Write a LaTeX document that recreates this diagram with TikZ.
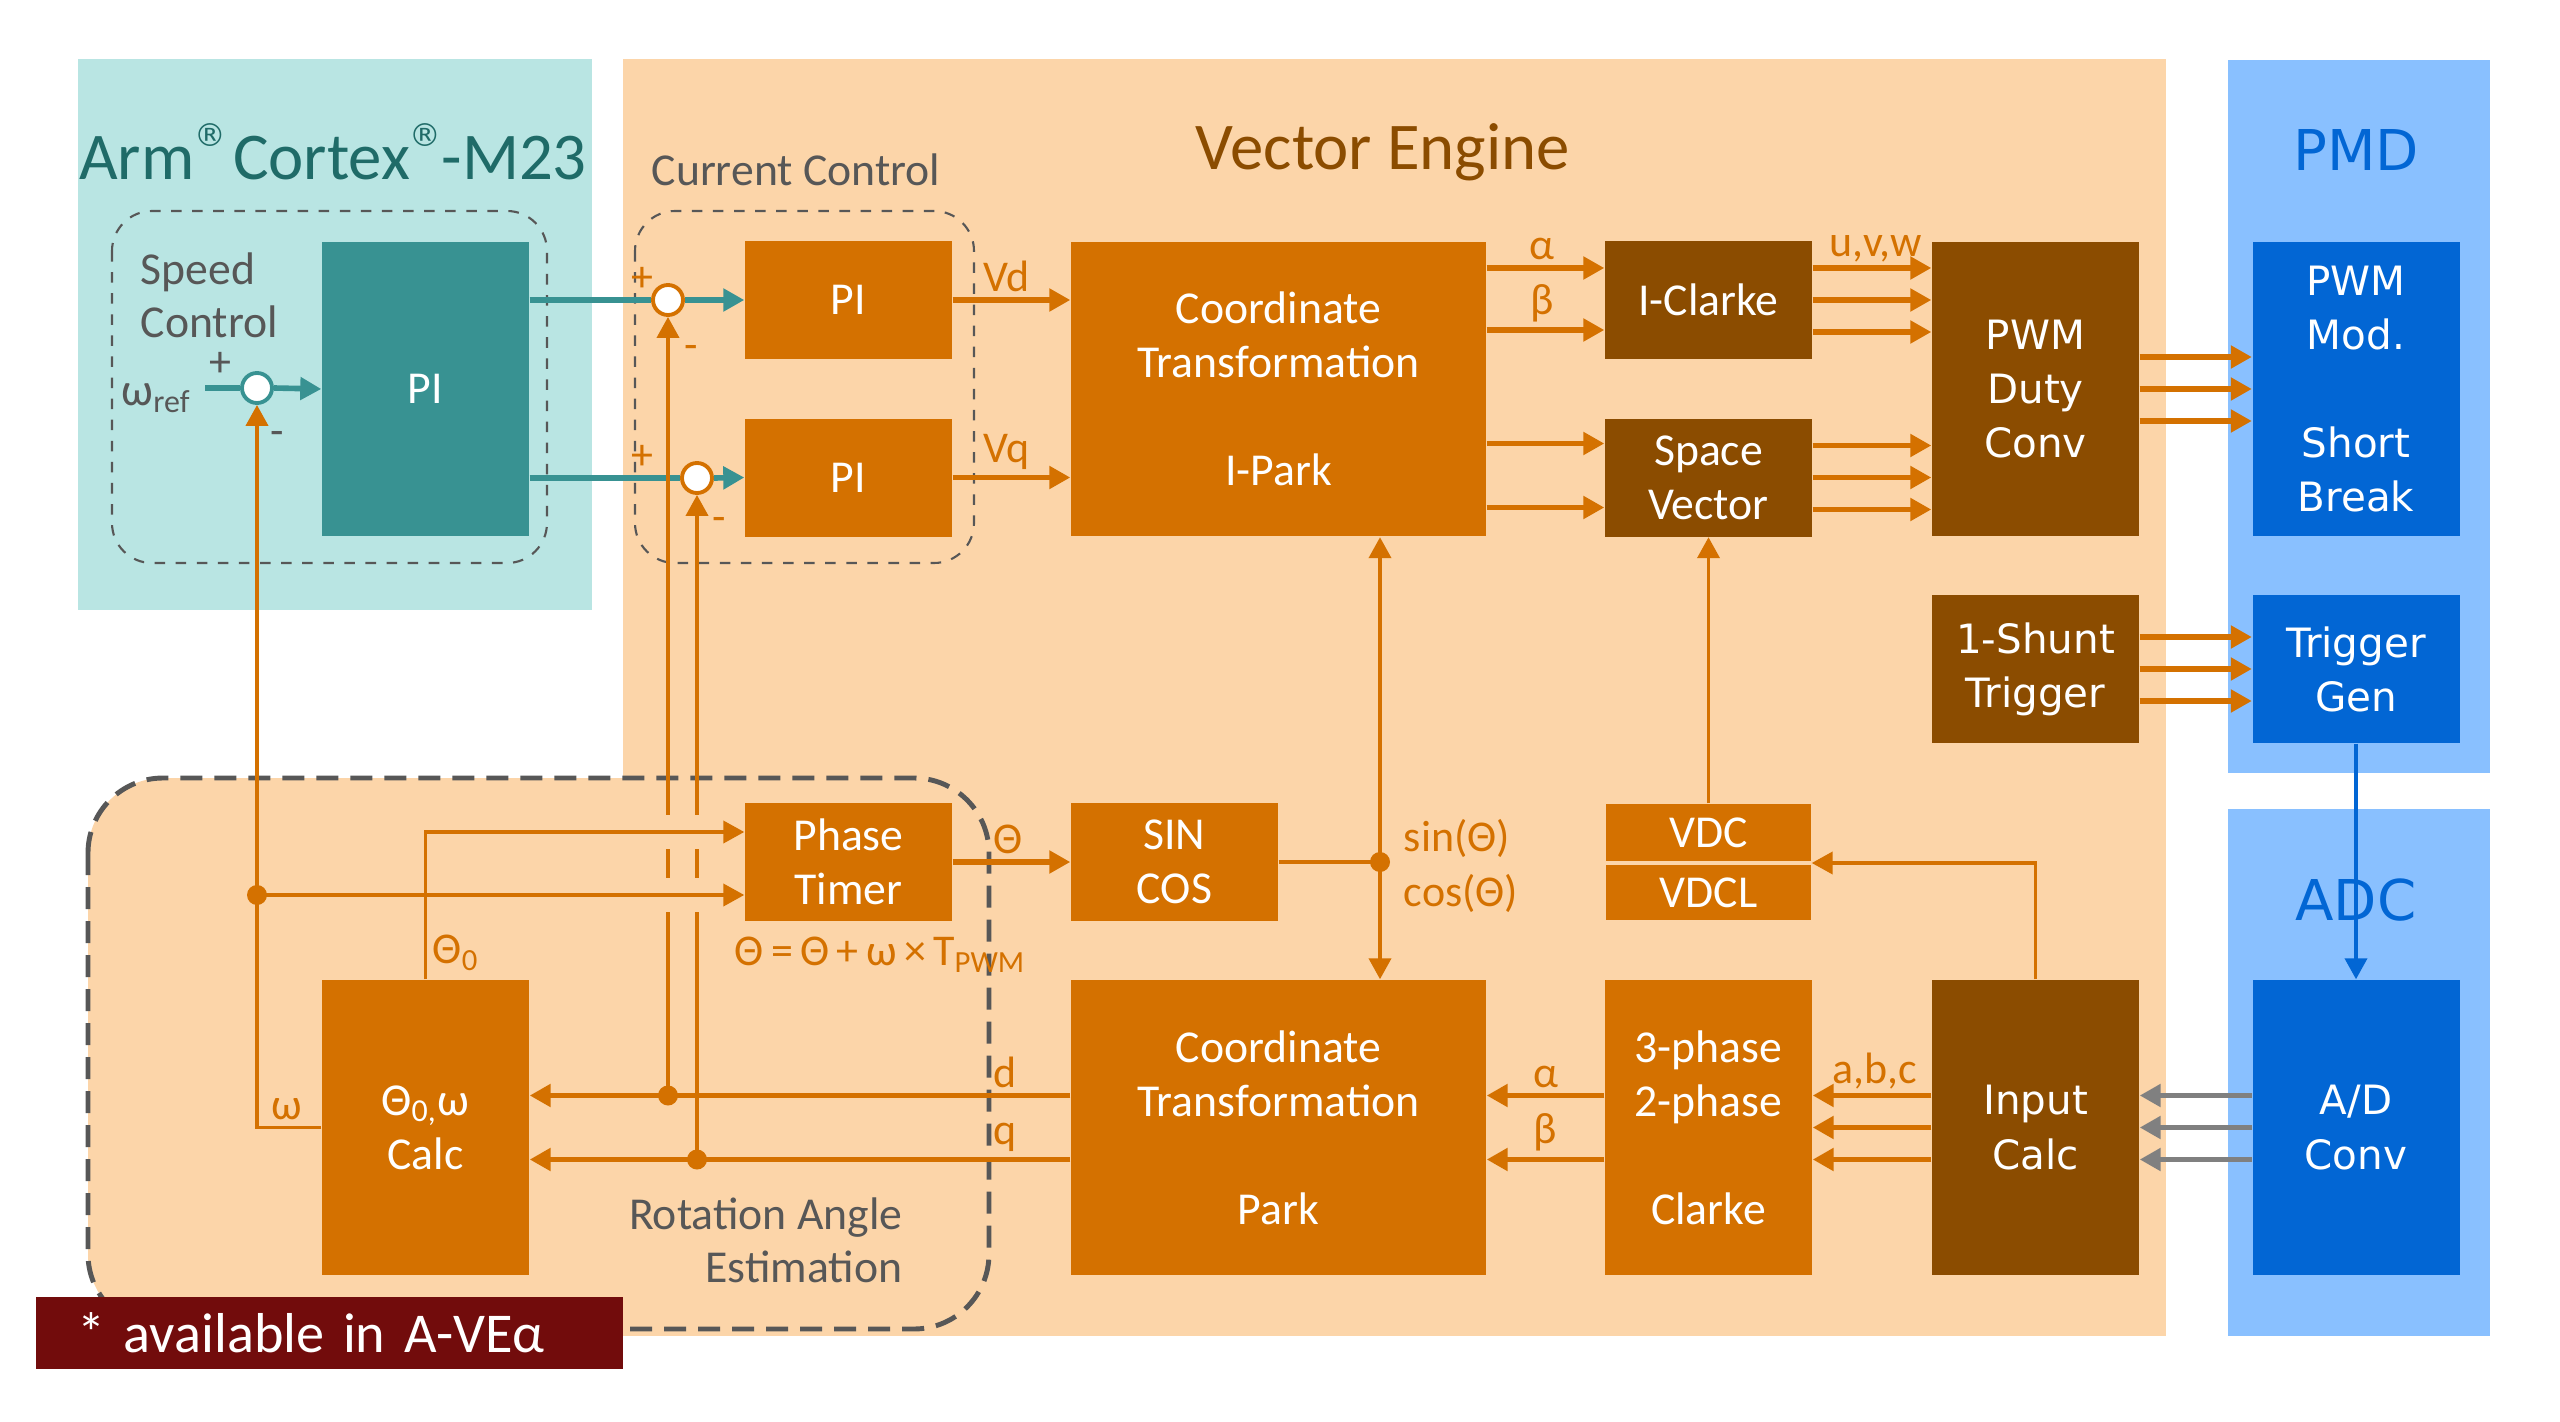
\documentclass[tikz,border=0pt]{standalone}
\usepackage{fontspec}
\setmainfont{Carlito}
\newfontfamily\pmdfont{DejaVu Sans}
\usetikzlibrary{arrows.meta,positioning,calc}

\definecolor{armbg}{HTML}{B9E5E3}
\definecolor{armteal}{HTML}{389292}
\definecolor{armtitle}{HTML}{1F6B68}
\definecolor{vebg}{HTML}{FCD5A9}
\definecolor{veorange}{HTML}{D47100}
\definecolor{vebrown}{HTML}{8B4C00}
\definecolor{pmdbg}{HTML}{89C0FF}
\definecolor{pmdblue}{HTML}{0266D4}
\definecolor{notered}{HTML}{720C0C}
\definecolor{dashgray}{HTML}{575757}

\newcommand{\regmark}{\raisebox{1.05ex}{\pmdfont\fontsize{9}{9}\selectfont ®}}

\begin{document}
\begin{tikzpicture}[
    x=0.1mm, y=-0.1mm,
    block/.style={
        rectangle,
        fill=veorange,
        text=white,
        inner sep=0pt,
        align=center,
        font=\fontsize{13}{15.4}\selectfont
    },
    darkblock/.style={block, fill=vebrown},
    pmdtext/.style={font=\pmdfont\fontsize{11.5}{15.4}\selectfont},
    pmdblock/.style={block, pmdtext, fill=pmdblue},
    smallbox/.style={minimum width=20.7mm, minimum height=11.8mm},
    midbox/.style={minimum width=20.7mm, minimum height=14.8mm},
    tallbox/.style={minimum width=20.7mm, minimum height=29.5mm},
    widebox/.style={minimum width=41.5mm, minimum height=29.5mm},
    sumnode/.style={
        circle,
        draw=veorange,
        fill=white,
        line width=1.1pt,
        minimum size=3mm,
        inner sep=0pt
    },
    conn/.style={draw=veorange, line width=1.1pt},
    arrow/.style={conn, -{Triangle[length=2.1mm, width=2.2mm]}},
    bus/.style={arrow, line width=1.6pt},
    tealarrow/.style={bus, draw=armteal},
    joint/.style={circle, fill=veorange, minimum size=2mm, inner sep=0pt},
    bridge/.style={draw=vebg, line width=3.4mm},
    lbl/.style={font=\fontsize{12.5}{15.4}\selectfont, text=veorange, inner sep=1.5pt},
    grouptext/.style={font=\fontsize{13}{15}\selectfont, text=dashgray, inner sep=0pt},
    groupbox/.style={draw=dashgray, dashed, line width=0.6pt, rounded corners=4mm}
]

\useasboundingbox (0,0) rectangle (2560,1422);

% Backgrounds
\fill[armbg] (78,59) rectangle (592,610);
\fill[vebg] (623,59) rectangle (2166,1336);
\fill[pmdbg] (2228,60) rectangle (2490,773);
\fill[pmdbg] (2228,809) rectangle (2490,1336);
\fill[vebg, rounded corners=7.5mm] (88,778) rectangle (989,1329);

% Titles
\node[font=\fontsize{19}{22}\selectfont, text=armtitle] (armname) at (333,152)
    {Arm\regmark\hspace{2pt}Cortex\regmark-M23};
\node[font=\fontsize{19}{22}\selectfont, text=vebrown] (vename) at (1383,152) {Vector Engine};
\node[font=\pmdfont\fontsize{16}{18}\selectfont, text=pmdblue] (pmdname) at (2356,150) {PMD};
\node[font=\pmdfont\fontsize{16}{18}\selectfont, text=pmdblue] (adcname) at (2356,900) {ADC};

% Groups
\draw[groupbox] (112,211) rectangle (547,563);
\draw[groupbox] (635,211) rectangle (974,563);
\draw[groupbox, line width=1.4pt, dash pattern=on 2.2mm off 1.2mm, rounded corners=7.5mm]
    (88,778) rectangle (989,1329);
\node[grouptext, align=left, anchor=west] (speedtext) at (140,295) {Speed\\Control};
\node[grouptext] (currenttext) at (796,170) {Current Control};
\node[grouptext, align=right, anchor=east] (rottext) at (903,1240) {Rotation Angle\\Estimation};

% Blocks
\node[block, tallbox, fill=armteal] (spi) at (425.5,389) {PI};
\node[block, smallbox] (pid) at (848.5,300) {PI};
\node[block, smallbox] (piq) at (848.5,477.5) {PI};
\node[block, widebox] (ipark) at (1278.5,389) {Coordinate\\Transformation\\[15.4pt]I-Park};
\node[darkblock, smallbox] (iclarke) at (1708.5,300) {I-Clarke};
\node[darkblock, smallbox] (svec) at (1708.5,477.5) {Space\\Vector};
\node[darkblock, pmdtext, tallbox] (pwmduty) at (2035.5,389) {PWM\\Duty\\Conv};
\node[pmdblock, tallbox] (pwmmod) at (2356,389) {PWM\\Mod.\\[15.4pt]Short\\Break};
\node[darkblock, pmdtext, midbox] (shunt) at (2035.5,669) {1-Shunt\\Trigger};
\node[pmdblock, midbox] (triggen) at (2356,669) {Trigger\\Gen};
\node[block, smallbox] (phase) at (848.5,862) {Phase\\Timer};
\node[block, smallbox] (sincos) at (1174.5,862) {SIN\\COS};
\node[block, minimum width=20.5mm, minimum height=5.7mm] (vdc) at (1708.5,832.5) {VDC};
\node[block, minimum width=20.5mm, minimum height=5.5mm] (vdcl) at (1708.5,892.5) {VDCL};
\node[block, widebox] (park) at (1278.5,1127.5) {Coordinate\\Transformation\\[15.4pt]Park};
\node[block, tallbox] (clarke) at (1708.5,1127.5) {3-phase\\2-phase\\[15.4pt]Clarke};
\node[darkblock, pmdtext, tallbox] (incalc) at (2035.5,1127.5) {Input\\Calc};
\node[pmdblock, tallbox] (adconv) at (2356,1127.5) {A/D\\Conv};
\node[block, tallbox] (calc) at (425.5,1127.5) {Θ\textsubscript{0,}ω\\Calc};

% Summing points
\node[sumnode, draw=armteal] (sumw) at (257,388) {};
\node[sumnode] (sumd) at (668,300) {};
\node[sumnode] (sumq) at (697,478) {};
\node[lbl, text=dashgray] at ($(sumw)+(-37,-24)$) {+};
\node[lbl, text=dashgray] at ($(sumw)+(20,50)$) {-};
\node[lbl] at ($(sumd)+(-26,-21)$) {+};
\node[lbl] at ($(sumd)+(23,52)$) {-};
\node[lbl] at ($(sumq)+(-55,-21)$) {+};
\node[lbl] at ($(sumq)+(22,46)$) {-};

% Speed and current loop
\coordinate (wref) at (205,388);
\node[font=\fontsize{13}{15}\selectfont, text=dashgray, anchor=base east, inner sep=0pt] (wreftext)
    at (192,405) {ω\textsubscript{ref}};
\draw[tealarrow, -] (wref) -- (sumw.west);
\draw[tealarrow] (sumw.east) -- (spi.west);
\draw[tealarrow, -] ($(spi.east)+(0,-89)$) -- (sumd.west);
\draw[tealarrow] (sumd.east) -- (pid.west);
\draw[tealarrow, -] ($(spi.east)+(0,89)$) -- (sumq.west);
\draw[tealarrow] (sumq.east) -- (piq.west);
\draw[bus] (pid.east) -- node[lbl, above, pos=0.46] {Vd} (pid.east -| ipark.west);
\draw[bus] (piq.east) -- node[lbl, above, pos=0.46] {Vq} (piq.east -| ipark.west);

% Output path
\draw[bus] ($(ipark.east |- iclarke.west)+(0,-32)$) -- node[lbl, above, pos=0.47] {α} ($(iclarke.west)+(0,-32)$);
\draw[bus] ($(ipark.east |- iclarke.west)+(0,30)$) -- node[lbl, above, pos=0.47] {β} ($(iclarke.west)+(0,30)$);
\draw[bus] ($(ipark.east |- svec.west)+(0,-34)$) -- ($(svec.west)+(0,-34)$);
\draw[bus] ($(ipark.east |- svec.west)+(0,30)$) -- ($(svec.west)+(0,30)$);
\foreach \dy in {-32,0,32} {
    \draw[bus] ($(iclarke.east)+(0,\dy)$) -- ($(pwmduty.west |- iclarke.east)+(0,\dy)$);
    \draw[bus] ($(svec.east)+(0,\dy)$) -- ($(pwmduty.west |- svec.east)+(0,\dy)$);
    \draw[bus] ($(pwmduty.east)+(0,\dy)$) -- ($(pwmmod.west)+(0,\dy)$);
    \draw[bus] ($(shunt.east)+(0,\dy)$) -- ($(triggen.west)+(0,\dy)$);
    \draw[bus, draw=gray] ($(adconv.west)+(0,\dy)$) -- ($(incalc.east)+(0,\dy)$);
    \draw[bus] ($(incalc.west)+(0,\dy)$) -- ($(clarke.east)+(0,\dy)$);
}
\path ($(iclarke.east)+(0,-32)$) -- node[lbl, above, pos=0.53] {u,v,w} ($(pwmduty.west |- iclarke.east)+(0,-32)$);
\path ($(incalc.west)+(0,-32)$) -- node[lbl, above, pos=0.48] {a,b,c} ($(clarke.east)+(0,-32)$);
\draw[arrow, draw=pmdblue] (triggen.south) -- (adconv.north);

% Input path
\draw[bus] ($(clarke.west)+(0,-32)$) -- node[lbl, above, pos=0.5] {α} ($(park.east |- clarke.west)+(0,-32)$);
\draw[bus] ($(clarke.west)+(0,32)$) -- node[lbl, above, pos=0.5] {β} ($(park.east |- clarke.west)+(0,32)$);
\draw[arrow] (vdc.north) -- (svec.south);
\draw[arrow] (incalc.north) |- ($(vdc.south east)!0.5!(vdcl.north east)$);
\draw[bus] ($(park.west)+(0,-32)$) -- node[lbl, above, pos=0.12] {d} ($(calc.east |- park.west)+(0,-32)$);
\draw[bus] ($(park.west)+(0,32)$) -- node[lbl, above, pos=0.12] {q} ($(calc.east |- park.west)+(0,32)$);

% Feedback to current control
\coordinate (dd) at ($(sumd.south |- park.west)+(0,-32)$);
\coordinate (qd) at ($(sumq.south |- park.west)+(0,32)$);
\draw[arrow] (dd) -- (sumd.south);
\draw[arrow] (qd) -- (sumq.south);

% Rotation angle estimation
\coordinate (wd) at ($(sumw.south |- phase.west)+(0,33)$);
\draw[bridge] (wd) -- ($(phase.west)+(0,33)$);
\draw[bridge] ($(calc.north |- phase.west)+(0,-30)$) -- ($(phase.west)+(0,-30)$);
\draw[arrow] (wd) -- ($(phase.west)+(0,33)$);
\draw[arrow] (calc.north) |- node[lbl, right, pos=0.09] {Θ\textsubscript{0}} ($(phase.west)+(0,-30)$);
\draw[conn] (calc.west) -| node[lbl, above, pos=0.27] {ω} (wd);
\draw[arrow] (wd) -- (sumw.south);
\node[lbl] (formula) at ($(phase.south)+(32,33)$) {Θ\,=\,Θ\,+\,ω\,×\,T\textsubscript{PWM}};

% Angle to transformations
\draw[bus] (phase.east) -- node[lbl, above, pos=0.47] {Θ} (sincos.west);
\coordinate (sc) at ($(ipark.south |- sincos.east)+(101.5,0)$);
\draw[conn] (sincos.east) -- (sc);
\draw[arrow] (sc) -- (sc |- ipark.south);
\draw[arrow] (sc) -- (sc |- park.north);
\node[lbl, anchor=west, align=left] (sctext) at ($(sc)+(18,4)$) {sin(Θ)\\cos(Θ)};

% Junctions
\node[joint] at (dd) {};
\node[joint] at (qd) {};
\node[joint] at (wd) {};
\node[joint] at (sc) {};

% Note
\node[fill=notered, text=white, font=\fontsize{16}{18}\selectfont, minimum height=7.2mm,
    text width=50.5mm, inner xsep=4.1mm, inner ysep=0pt, align=left] (note) at (329.5,1333)
    {* available in A-VEα};

\end{tikzpicture}
\end{document}
